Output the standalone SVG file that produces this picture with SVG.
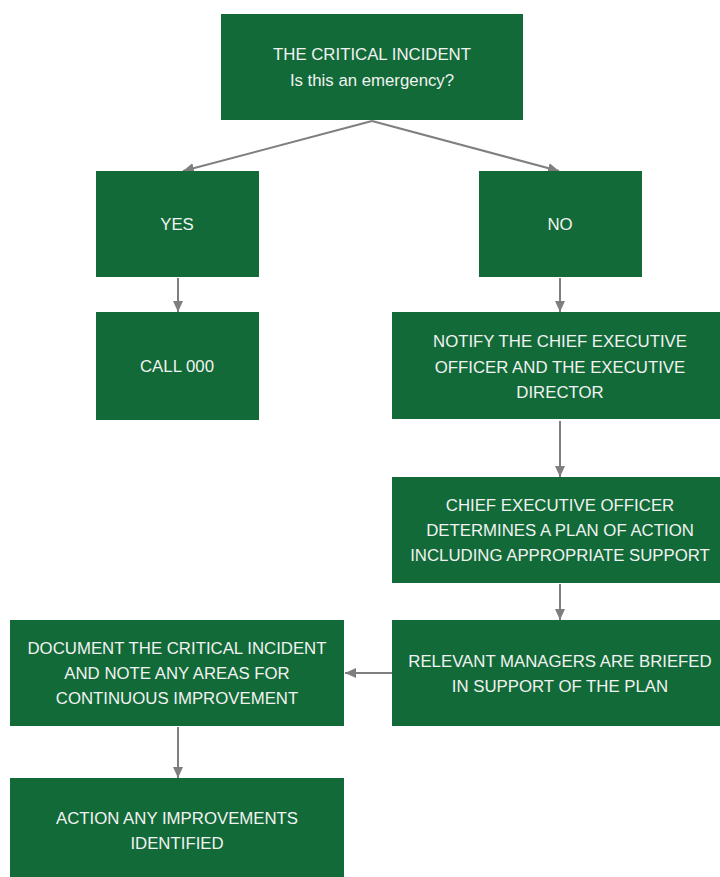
<svg xmlns="http://www.w3.org/2000/svg" width="720" height="877" viewBox="0 0 720 877">
<style>
.box{fill:#116A37}
.t{font-family:"Liberation Sans",Arial,sans-serif;font-size:16.8px;fill:#F2F2F2;text-anchor:middle}
.c{stroke:#7F7F7F;stroke-width:2;fill:none;marker-end:url(#ah)}
</style>
<defs>
<marker id="ah" markerUnits="userSpaceOnUse" markerWidth="12" markerHeight="12" viewBox="0 0 12 12" refX="11" refY="6" orient="auto">
<path d="M0,1 L11,6 L0,11 Z" fill="#7F7F7F"/>
</marker>
</defs>
<rect width="720" height="877" fill="#FFFFFF"/>
<g id="connectors">
<path class="c" d="M372,121 L183,171"/>
<path class="c" d="M372,121 L559,171"/>
<path class="c" d="M178,278 L178,312"/>
<path class="c" d="M560,278 L560,312"/>
<path class="c" d="M560,421 L560,477"/>
<path class="c" d="M560,584 L560,620"/>
<path class="c" d="M392,673 L345,673"/>
<path class="c" d="M178,727 L178,778"/>
</g>
<g id="n-incident"><rect class="box" x="221" y="14" width="302" height="106"/>
<text class="t" x="372" y="60">THE CRITICAL INCIDENT</text>
<text class="t" x="372" y="86">Is this an emergency?</text></g>
<g id="n-yes"><rect class="box" x="96" y="171" width="163" height="106"/>
<text class="t" x="177" y="230">YES</text></g>
<g id="n-no"><rect class="box" x="479" y="171" width="163" height="106"/>
<text class="t" x="560" y="230">NO</text></g>
<g id="n-call"><rect class="box" x="96" y="312" width="163" height="108"/>
<text class="t" x="177" y="372">CALL 000</text></g>
<g id="n-notify"><rect class="box" x="392" y="312" width="328" height="107"/>
<text class="t" x="560" y="347">NOTIFY THE CHIEF EXECUTIVE</text>
<text class="t" x="560" y="373">OFFICER AND THE EXECUTIVE</text>
<text class="t" x="560" y="398">DIRECTOR</text></g>
<g id="n-plan"><rect class="box" x="392" y="477" width="328" height="106"/>
<text class="t" x="560" y="511">CHIEF EXECUTIVE OFFICER</text>
<text class="t" x="560" y="536">DETERMINES A PLAN OF ACTION</text>
<text class="t" x="560" y="561">INCLUDING APPROPRIATE SUPPORT</text></g>
<g id="n-brief"><rect class="box" x="392" y="620" width="328" height="106"/>
<text class="t" x="560" y="667">RELEVANT MANAGERS ARE BRIEFED</text>
<text class="t" x="560" y="692">IN SUPPORT OF THE PLAN</text></g>
<g id="n-document"><rect class="box" x="10" y="620" width="334" height="106"/>
<text class="t" x="177" y="654">DOCUMENT THE CRITICAL INCIDENT</text>
<text class="t" x="177" y="679">AND NOTE ANY AREAS FOR</text>
<text class="t" x="177" y="704">CONTINUOUS IMPROVEMENT</text></g>
<g id="n-action"><rect class="box" x="10" y="778" width="334" height="99"/>
<text class="t" x="177" y="824">ACTION ANY IMPROVEMENTS</text>
<text class="t" x="177" y="849">IDENTIFIED</text></g>
</svg>
